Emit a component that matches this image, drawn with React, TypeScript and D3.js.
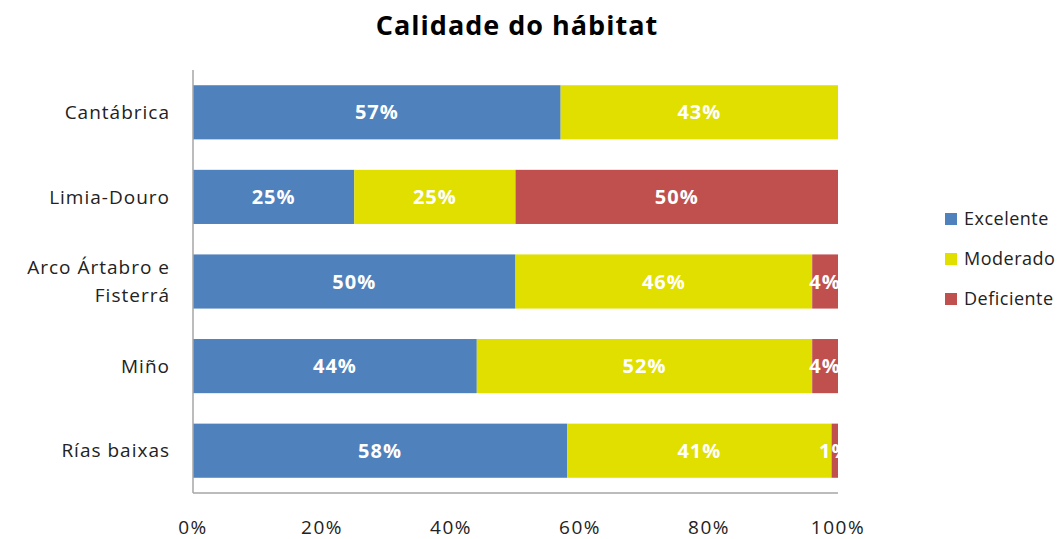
import React, { useEffect, useRef } from 'react';
import * as d3 from 'd3';

const regions = ['Cantábrica', 'Limia-Douro', 'Arco Ártabro e|Fisterrá', 'Miño', 'Rías baixas'];
const seriesNames = ['Excelente', 'Moderado', 'Deficiente'];
const excelente = [57, 25, 50, 44, 58];
const moderado = [43, 25, 46, 52, 41];
const deficiente = [0, 50, 4, 4, 1];
const ticks = [0, 20, 40, 60, 80, 100];
const colors = ['#4f81bd', '#e0df00', '#c0504d'];

const W = 1064, H = 539;
const margin = { top: 70, right: 226, bottom: 46, left: 193 };
const FONT = "'Open Sans', 'DejaVu Sans', sans-serif";

export default function App() {
  const ref = useRef<SVGSVGElement | null>(null);

  useEffect(() => {
    const svg = d3.select(ref.current);
    svg.selectAll('*').remove();

    const width = W - margin.left - margin.right;
    const height = H - margin.top - margin.bottom;

    const rows = regions.map((r, i) => ({
      region: r,
      Excelente: excelente[i],
      Moderado: moderado[i],
      Deficiente: deficiente[i],
    }));
    const stacked = d3.stack<any>().keys(seriesNames)(rows);

    const x = d3.scaleLinear().domain([0, 100]).range([0, width]);
    const y = d3.scaleBand().domain(regions).range([0, height]).paddingInner(0.36).paddingOuter(0.18);
    const color = d3.scaleOrdinal<string>().domain(seriesNames).range(colors);

    svg.append('defs').append('clipPath').attr('id', 'plotclip')
      .append('rect').attr('x', 0).attr('y', 0).attr('width', width).attr('height', height);

    // title
    svg.append('text')
      .attr('x', 517).attr('y', 35)
      .attr('text-anchor', 'middle')
      .style('font-family', FONT).style('font-weight', 'bold').style('font-size', '27px')
      .style('letter-spacing', '1px')
      .text('Calidade do hábitat');

    const g = svg.append('g').attr('transform', `translate(${margin.left},${margin.top})`);

    // bars
    const layers = g.append('g').selectAll('g').data(stacked).enter().append('g')
      .attr('fill', (d: any) => color(d.key));
    layers.selectAll('rect').data((d: any) => d).enter().append('rect')
      .attr('x', (d: any) => x(d[0]))
      .attr('y', (d: any) => y(d.data.region) as number)
      .attr('width', (d: any) => x(d[1]) - x(d[0]))
      .attr('height', y.bandwidth());

    // labels
    const lab = g.append('g').attr('clip-path', 'url(#plotclip)');
    stacked.forEach((s: any) => {
      s.forEach((d: any) => {
        const v = d[1] - d[0];
        if (v <= 0) return;
        lab.append('text')
          .attr('x', x((d[0] + d[1]) / 2))
          .attr('y', (y(d.data.region) as number) + y.bandwidth() / 2)
          .attr('dy', '0.35em')
          .attr('text-anchor', 'middle')
          .attr('fill', '#fff')
          .style('font-family', FONT).style('font-weight', 'bold').style('font-size', '20px')
          .style('letter-spacing', '1px')
          .text(v + '%');
      });
    });

    // axes lines
    g.append('line').attr('x1', 0).attr('x2', 0).attr('y1', 0).attr('y2', height)
      .attr('stroke', '#a6a6a6').attr('stroke-width', 1.5);
    g.append('line').attr('x1', 0).attr('x2', width).attr('y1', height).attr('y2', height)
      .attr('stroke', '#a6a6a6').attr('stroke-width', 1.5);

    // x tick labels
    g.append('g').selectAll('text').data(ticks).enter().append('text')
      .attr('x', (d) => x(d))
      .attr('y', height + 34)
      .attr('dy', '0.35em')
      .attr('text-anchor', 'middle')
      .attr('fill', '#222')
      .style('font-family', FONT).style('font-size', '19px')
      .style('letter-spacing', '1.5px')
      .text((d) => d + '%');

    // y category labels
    regions.forEach((r) => {
      const lines = r.split('|');
      const cy = (y(r) as number) + y.bandwidth() / 2;
      const t = g.append('text')
        .attr('text-anchor', 'end')
        .attr('fill', '#222')
        .style('font-family', FONT).style('font-size', '19px')
        .style('letter-spacing', '1px');
      lines.forEach((ln, i) => {
        t.append('tspan')
          .attr('x', -23)
          .attr('y', cy + (i - (lines.length - 1) / 2) * 28)
          .attr('dy', '0.35em')
          .text(ln);
      });
    });

    // legend
    const leg = svg.append('g').attr('transform', 'translate(945,219)');
    seriesNames.forEach((s, i) => {
      leg.append('rect').attr('x', 0).attr('y', i * 40 - 6).attr('width', 12).attr('height', 12)
        .attr('fill', color(s));
      leg.append('text').attr('x', 19).attr('y', i * 40).attr('dy', '0.35em')
        .attr('fill', '#222')
        .style('font-family', FONT).style('font-size', '18px')
        .style('letter-spacing', '0.5px')
        .text(s);
    });
  }, []);

  return (
    <svg ref={ref} width={W} height={H} style={{ display: 'block', position: 'absolute', left: 0, top: 0 }} />
  );
}
